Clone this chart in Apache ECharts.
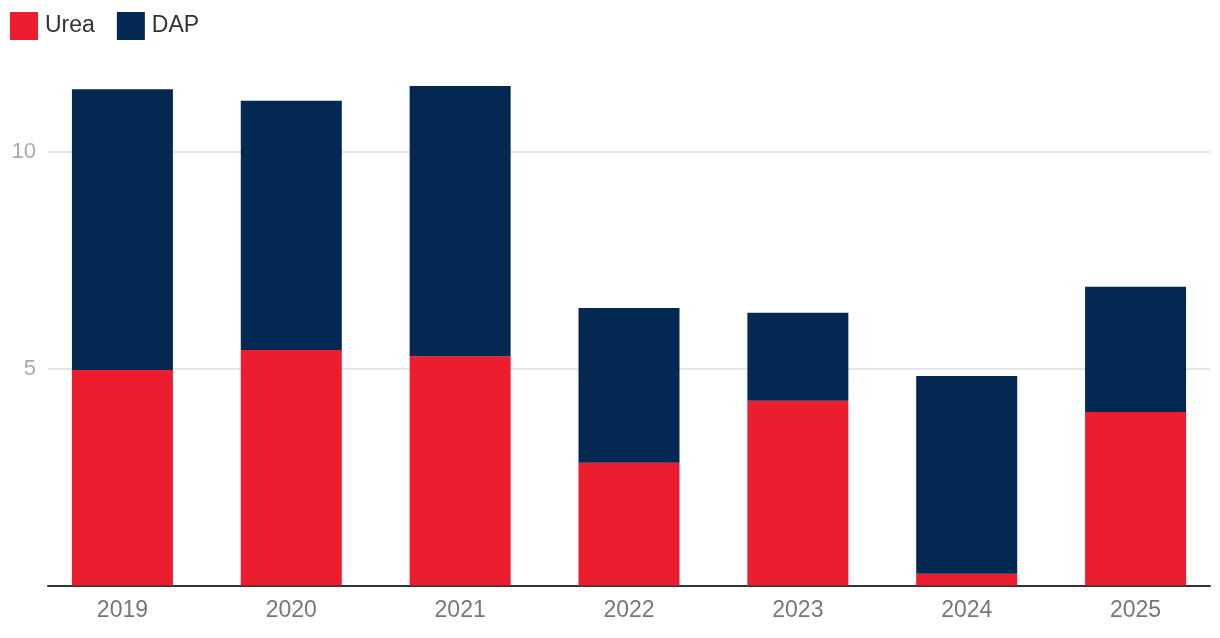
<!DOCTYPE html>
<html>
<head>
<meta charset="utf-8">
<script src="https://cdn.jsdelivr.net/npm/echarts@6/dist/echarts.min.js"></script>
<style>
html,body{margin:0;padding:0;background:#fff;}
#chart{width:1220px;height:638px;}
</style>
</head>
<body>
<div id="chart"></div>
<script>
const categories = ['2019','2020','2021','2022','2023','2024','2025'];
const ureaValues = [4.97, 5.43, 5.29, 2.83, 4.26, 0.27, 4.00];
const dapValues  = [6.48, 5.75, 6.23, 3.57, 2.03, 4.56, 2.89];
const yTicks = [0, 5, 10];

const font = 'Liberation Sans, Arial, Helvetica, sans-serif';
const chart = echarts.init(document.getElementById('chart'));
const TOP = 65.3, BOTTOM = 52.5, YMAX = 12;

chart.setOption({
  animation: false,
  textStyle: { fontFamily: font },
  legend: {
    left: 5, top: 7,
    itemWidth: 28, itemHeight: 28, itemGap: 22,
    icon: 'rect',
    textStyle: { fontSize: 23, color: '#333', fontFamily: font, padding: [0, 0, 0, 2] },
    data: ['Urea', 'DAP']
  },
  grid: [
    { left: 38, width: 1187, top: TOP, bottom: BOTTOM },
    { left: 48, right: 10, top: TOP, bottom: BOTTOM }
  ],
  xAxis: [
    {
      type: 'category', gridIndex: 0, data: categories,
      axisLine: { show: false }, axisTick: { show: false },
      axisLabel: { fontSize: 23, color: '#777', margin: 14, fontFamily: font }
    },
    {
      type: 'category', gridIndex: 1, data: categories,
      axisLine: { show: true, lineStyle: { color: '#333', width: 2 } },
      axisTick: { show: false }, axisLabel: { show: false }
    }
  ],
  yAxis: [
    {
      type: 'value', gridIndex: 0, min: 0, max: YMAX, interval: 5,
      axisLine: { show: false }, axisTick: { show: false },
      axisLabel: { show: false }, splitLine: { show: false }
    },
    {
      type: 'value', gridIndex: 1, min: 0, max: YMAX, interval: 5,
      axisLine: { show: false }, axisTick: { show: false },
      axisLabel: {
        fontSize: 22, color: '#aaa', margin: 12, fontFamily: font,
        showMaxLabel: false, showMinLabel: false,
        formatter: v => yTicks.includes(v) ? String(v) : ''
      },
      splitLine: { show: true, showMaxLine: false, showMinLine: false, lineStyle: { color: '#e6e6e6', width: 2 } }
    }
  ],
  series: [
    {
      name: 'Urea', type: 'bar', stack: 'total', xAxisIndex: 0, yAxisIndex: 0,
      barWidth: 101, itemStyle: { color: '#EC1D2F' }, data: ureaValues, z: 3
    },
    {
      name: 'DAP', type: 'bar', stack: 'total', xAxisIndex: 0, yAxisIndex: 0,
      barWidth: 101, itemStyle: { color: '#032851' }, data: dapValues, z: 3
    }
  ]
});
</script>
</body>
</html>
